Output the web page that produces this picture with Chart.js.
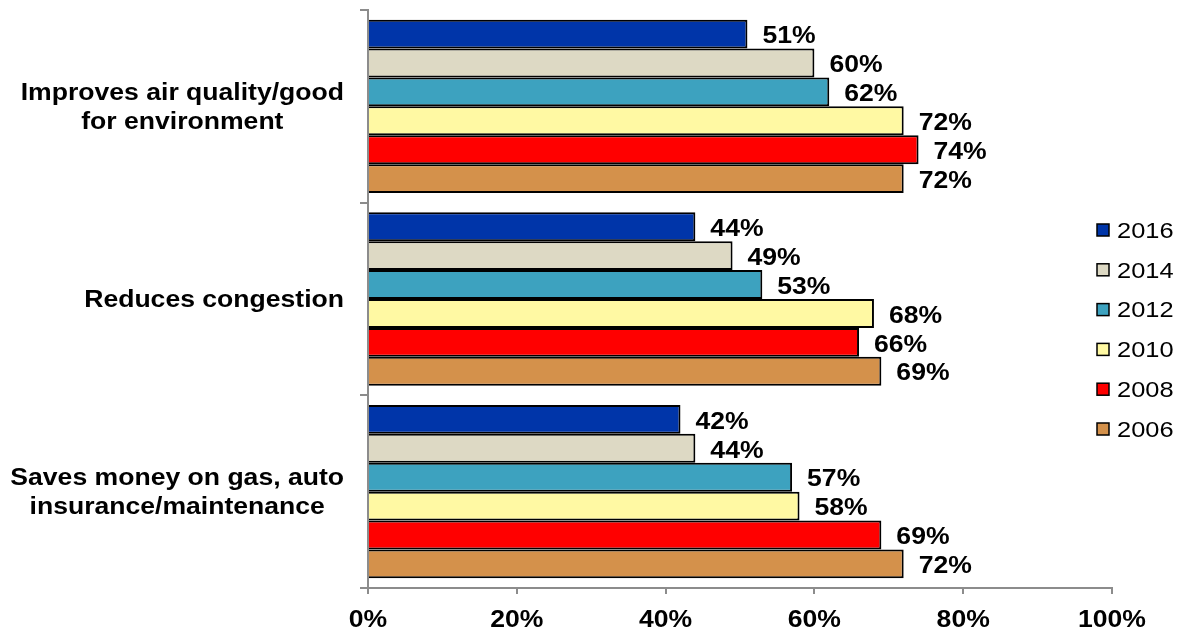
<!DOCTYPE html>
<html>
<head>
<meta charset="utf-8">
<script src="https://cdn.jsdelivr.net/npm/chart.js@4/dist/chart.umd.min.js"></script>
<style>
  html, body { margin: 0; padding: 0; background: #ffffff; }
  #wrap { width: 1180px; height: 631px; }
</style>
</head>
<body>
<div id="wrap"><canvas id="c" width="1180" height="631"></canvas></div>
<script>
// Survey categories (multi-line labels)
const categories = [
  ["Improves air quality/good", "for environment"],
  ["Reduces congestion"],
  ["Saves money on gas, auto", "insurance/maintenance"]
];

// Survey years, top to bottom within each category
const years = ["2016", "2014", "2012", "2010", "2008", "2006"];

// Share of respondents (%) per category, one array per year
const v2016 = [51, 44, 42];
const v2014 = [60, 49, 44];
const v2012 = [62, 53, 57];
const v2010 = [72, 68, 58];
const v2008 = [74, 66, 69];
const v2006 = [72, 69, 72];

// Axis ticks
const xTicks = [0, 20, 40, 60, 80, 100];
const xTickLabels = ["0%", "20%", "40%", "60%", "80%", "100%"];

const seriesValues = [v2016, v2014, v2012, v2010, v2008, v2006];
const seriesColors = ["#0035A9", "#DDD9C4", "#3DA2BF", "#FFF9A3", "#FF0000", "#D4914B"];

const FONT = "'Liberation Sans', Arial, Helvetica, sans-serif";
const AXIS_GREY = "#8C8C8C";
const SX = 1.155;         // horizontal text stretch
const CAP = 0.716;        // cap height ratio of the font

// Draw text stretched horizontally around its anchor point
function stretchedText(ctx, text, x, y, align) {
  ctx.save();
  ctx.translate(x, y);
  ctx.scale(SX, 1);
  ctx.textAlign = align;
  ctx.textBaseline = "alphabetic";
  ctx.fillText(text, 0, 0);
  ctx.restore();
}

// Category labels: each label block right-aligned to the axis, lines centered within the block
const categoryLabels = {
  id: "categoryLabels",
  afterDraw(chart) {
    const ctx = chart.ctx;
    const yScale = chart.scales.y;
    const size = 23;
    const right = chart.chartArea.left - 24;
    const lineH = 29;
    ctx.save();
    ctx.font = "bold " + size + "px " + FONT;
    ctx.fillStyle = "#000";
    categories.forEach((lines, i) => {
      const cy = yScale.getPixelForValue(i);
      const blockW = Math.max(...lines.map(l => ctx.measureText(l).width)) * SX;
      const cx = right - blockW / 2;
      const firstBase = cy - (lines.length - 1) * lineH / 2 + size * CAP / 2;
      lines.forEach((l, k) => stretchedText(ctx, l, cx, firstBase + k * lineH, "center"));
    });
    ctx.restore();
  }
};

// X axis tick labels
const xAxisLabels = {
  id: "xAxisLabels",
  afterDraw(chart) {
    const ctx = chart.ctx;
    const xScale = chart.scales.x;
    const size = 23;
    ctx.save();
    ctx.font = "bold " + size + "px " + FONT;
    ctx.fillStyle = "#000";
    xTicks.forEach((v, i) => {
      stretchedText(ctx, xTickLabels[i], xScale.getPixelForValue(v), 627, "center");
    });
    ctx.restore();
  }
};

// Value labels after the end of each bar
const valueLabels = {
  id: "valueLabels",
  afterDatasetsDraw(chart) {
    const ctx = chart.ctx;
    const size = 23;
    ctx.save();
    ctx.font = "bold " + size + "px " + FONT;
    ctx.fillStyle = "#000";
    chart.data.datasets.forEach((ds, di) => {
      const meta = chart.getDatasetMeta(di);
      meta.data.forEach((bar, i) => {
        stretchedText(ctx, ds.data[i] + "%", bar.x + 15, bar.y + 1 + size * CAP / 2, "left");
      });
    });
    ctx.restore();
  }
};

// Legend at the right, drawn over the plot area
const sideLegend = {
  id: "sideLegend",
  afterDraw(chart) {
    const ctx = chart.ctx;
    const size = 22;
    const x0 = 1097, y0 = 230, step = 39.8, box = 12;
    ctx.save();
    ctx.font = size + "px " + FONT;
    chart.data.datasets.forEach((ds, i) => {
      const cy = y0 + i * step;
      ctx.fillStyle = ds.backgroundColor;
      ctx.fillRect(x0, cy - box / 2, box, box);
      ctx.lineWidth = 1.5;
      ctx.strokeStyle = "#000";
      ctx.strokeRect(x0, cy - box / 2, box, box);
      ctx.fillStyle = "#000";
      stretchedText(ctx, ds.label, x0 + 20, cy + size * CAP / 2, "left");
    });
    ctx.restore();
  }
};

new Chart(document.getElementById("c"), {
  type: "bar",
  data: {
    labels: categories.map(l => l.join(" ")),
    datasets: years.map((y, i) => ({
      label: y,
      data: seriesValues[i],
      backgroundColor: seriesColors[i],
      borderColor: "#000000",
      borderWidth: 2,
      categoryPercentage: 0.9,
      barPercentage: 1.0
    }))
  },
  options: {
    indexAxis: "y",
    responsive: false,
    devicePixelRatio: 1,
    animation: false,
    layout: { padding: { top: 10, right: 68, left: 0, bottom: 0 } },
    plugins: {
      legend: { display: false },
      tooltip: { enabled: false }
    },
    scales: {
      x: {
        min: 0,
        max: 100,
        afterBuildTicks(scale) { scale.ticks = xTicks.map(v => ({ value: v })); },
        afterFit(scale) { scale.height = 43; },
        ticks: { display: false },
        grid: { drawOnChartArea: false, drawTicks: true, tickLength: 6, color: AXIS_GREY, lineWidth: 2 },
        border: { color: AXIS_GREY, width: 2 }
      },
      y: {
        afterFit(scale) { scale.width = 368; },
        ticks: { display: false },
        grid: { offset: true, drawOnChartArea: false, drawTicks: true, tickLength: 8, color: AXIS_GREY, lineWidth: 2 },
        border: { color: AXIS_GREY, width: 2 }
      }
    }
  },
  plugins: [categoryLabels, xAxisLabels, valueLabels, sideLegend]
});
</script>
</body>
</html>
